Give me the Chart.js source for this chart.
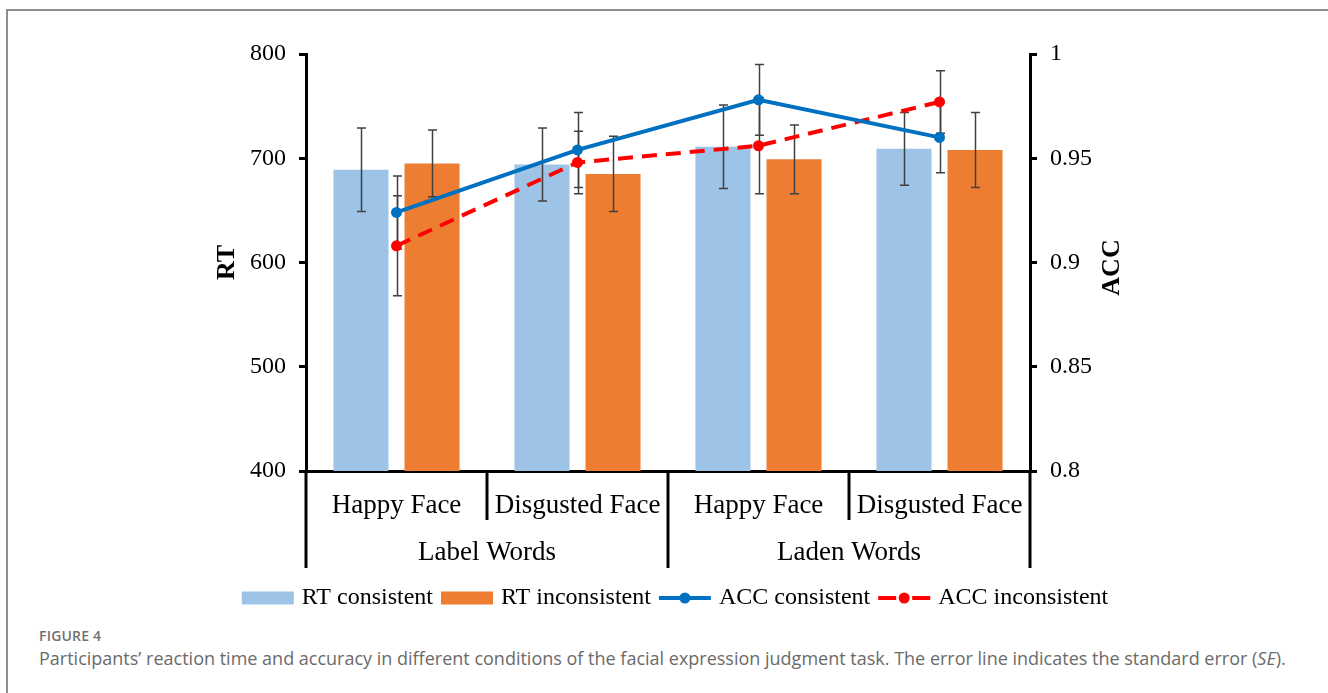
<!DOCTYPE html>
<html>
<head>
<meta charset="utf-8">
<script src="https://cdn.jsdelivr.net/npm/chart.js@4.4.1/dist/chart.umd.min.js"></script>
<style>
  html, body { margin: 0; padding: 0; background: #fff; width: 1328px; height: 693px; overflow: hidden; }
  #frame { position: absolute; left: 6px; top: 9px; width: 1340px; height: 700px;
           border-left: 2px solid #8e8e8e; border-top: 2px solid #8e8e8e; }
  #wrap { position: absolute; left: 0; top: 0; width: 1328px; height: 625px; }
  .fig { position: absolute; left: 39px; top: 626px; font: 600 14px 'Open Sans', sans-serif; color: #707070; letter-spacing: 0.2px; }
  .cap { position: absolute; left: 39px; top: 646px; font: 400 18px 'Open Sans', sans-serif; color: #6b6b6b; white-space: nowrap; }
</style>
</head>
<body>
<div id="frame"></div>
<div id="wrap"><canvas id="c" width="1328" height="625"></canvas></div>
<div class="fig">FIGURE 4</div>
<div class="cap">Participants’ reaction time and accuracy in different conditions of the facial expression judgment task. The error line indicates the standard error (<i>SE</i>).</div>
<script>
// Conditions along the x axis and the word type that groups them
const categories = ['Happy Face', 'Disgusted Face', 'Happy Face', 'Disgusted Face'];
const wordGroups = ['Label Words', 'Laden Words'];

// Reaction time (ms) with standard errors
const rtConsistent = [689, 694, 711, 709];
const rtConsistentSE = [40, 35, 40, 35];
const rtInconsistent = [695, 685, 699, 708];
const rtInconsistentSE = [32, 36, 33, 36];

// Accuracy with standard errors
const accConsistent = [0.924, 0.954, 0.978, 0.960];
const accConsistentSE = [0.0175, 0.018, 0.017, 0.017];
const accInconsistent = [0.908, 0.948, 0.956, 0.977];
const accInconsistentSE = [0.024, 0.015, 0.023, 0.015];

// Axis ticks
const rtTicks = [400, 500, 600, 700, 800];
const accTicks = [0.8, 0.85, 0.9, 0.95, 1];

const SERIF = "'Times New Roman', 'Liberation Serif', serif";

// Vertical error bars for every dataset, drawn through the dataset's own y scale
const errorBars = {
  id: 'errorBars',
  afterDatasetDraw(chart, args) {
    if (args.index !== 0) return; // after the last bar series is painted
    const ctx = chart.ctx;
    ctx.save();
    ctx.strokeStyle = '#404040';
    ctx.lineWidth = 1.5;
    chart.data.datasets.forEach((ds, di) => {
      const meta = chart.getDatasetMeta(di);
      const yScale = chart.scales[ds.yAxisID];
      meta.data.forEach((el, i) => {
        const v = ds.data[i], e = ds.se[i];
        const x = Math.round(el.x) + 0.5;
        const yTop = yScale.getPixelForValue(v + e);
        const yBot = yScale.getPixelForValue(v - e);
        ctx.beginPath();
        ctx.moveTo(x, yTop); ctx.lineTo(x, yBot);
        ctx.moveTo(x - 4.5, yTop); ctx.lineTo(x + 4.5, yTop);
        ctx.moveTo(x - 4.5, yBot); ctx.lineTo(x + 4.5, yBot);
        ctx.stroke();
      });
    });
    ctx.restore();
  }
};

// Group separators under the x axis, word-type labels, right axis title and legend
const decorations = {
  id: 'decorations',
  afterDraw(chart) {
    const ctx = chart.ctx;
    const xs = chart.scales.x;
    const area = chart.chartArea;
    const step = xs.getPixelForValue(1) - xs.getPixelForValue(0);
    const start = xs.getPixelForValue(0) - step / 2;
    ctx.save();
    ctx.strokeStyle = '#000';
    ctx.lineWidth = 3;
    for (let i = 0; i <= categories.length; i++) {
      const bx = start + i * step;
      const len = (i % 2 === 0) ? 97 : 49;
      ctx.beginPath();
      ctx.moveTo(bx, area.bottom);
      ctx.lineTo(bx, area.bottom + len);
      ctx.stroke();
    }
    ctx.fillStyle = '#000';
    ctx.font = '27px ' + SERIF;
    ctx.textAlign = 'center';
    ctx.textBaseline = 'middle';
    wordGroups.forEach((g, gi) => {
      const cx = start + (gi * 2 + 1) * step;
      ctx.fillText(g, cx, 553);
    });

    // Right axis title, reading bottom to top
    const ys = chart.scales.y1;
    ctx.save();
    ctx.translate(ys.left + 82, (area.top + area.bottom) / 2 + 5);
    ctx.rotate(-Math.PI / 2);
    ctx.font = 'bold 26px ' + SERIF;
    ctx.textAlign = 'center';
    ctx.textBaseline = 'middle';
    ctx.fillText('ACC', 0, 0);
    ctx.restore();

    // Legend
    ctx.font = '24px ' + SERIF;
    ctx.textAlign = 'left';
    ctx.textBaseline = 'middle';
    const markW = 52, gapIn = 8, gapOut = 8, ly = 598;
    const items = chart.data.datasets.map(ds => ({ ds, w: ctx.measureText(ds.label).width }));
    let total = 0;
    items.forEach((it, k) => { total += markW + gapIn + it.w + (k < items.length - 1 ? gapOut : 0); });
    let x = 675 - total / 2;
    items.forEach(it => {
      const ds = it.ds;
      if (ds.type === 'bar') {
        ctx.fillStyle = ds.backgroundColor;
        ctx.fillRect(x, ly - 6.5, markW, 13);
      } else {
        ctx.strokeStyle = ds.borderColor;
        ctx.lineWidth = ds.borderWidth;
        ctx.beginPath();
        if (ds.borderDash && ds.borderDash.length) {
          ctx.moveTo(x, ly); ctx.lineTo(x + 18, ly);
          ctx.moveTo(x + markW - 18, ly); ctx.lineTo(x + markW, ly);
        } else {
          ctx.moveTo(x, ly); ctx.lineTo(x + markW, ly);
        }
        ctx.stroke();
        ctx.fillStyle = ds.pointBackgroundColor;
        ctx.beginPath();
        ctx.arc(x + markW / 2, ly, 5.5, 0, Math.PI * 2);
        ctx.fill();
      }
      x += markW + gapIn;
      ctx.fillStyle = '#000';
      ctx.fillText(ds.label, x, ly);
      x += it.w + gapOut;
    });
    ctx.restore();
  }
};

new Chart(document.getElementById('c'), {
  data: {
    labels: categories,
    datasets: [
      { type: 'bar', label: 'RT consistent', data: rtConsistent, se: rtConsistentSE, yAxisID: 'y',
        backgroundColor: '#9DC3E6', borderWidth: 0, order: 3,
        categoryPercentage: 0.785, barPercentage: 0.775 },
      { type: 'bar', label: 'RT inconsistent', data: rtInconsistent, se: rtInconsistentSE, yAxisID: 'y',
        backgroundColor: '#ED7D31', borderWidth: 0, order: 3,
        categoryPercentage: 0.785, barPercentage: 0.775 },
      { type: 'line', label: 'ACC consistent', data: accConsistent, se: accConsistentSE, yAxisID: 'y1',
        borderColor: '#0070C0', borderWidth: 4, pointRadius: 5.5, pointBackgroundColor: '#0070C0',
        pointBorderWidth: 0, fill: false, tension: 0, order: 1 },
      { type: 'line', label: 'ACC inconsistent', data: accInconsistent, se: accInconsistentSE, yAxisID: 'y1',
        borderColor: '#FF0000', borderWidth: 4, borderDash: [15, 9], pointRadius: 5.5,
        pointBackgroundColor: '#FF0000', pointBorderWidth: 0, fill: false, tension: 0, order: 2 }
    ]
  },
  options: {
    responsive: false,
    animation: false,
    layout: { padding: { top: 54, left: 0, right: 0, bottom: 0 } },
    plugins: { legend: { display: false }, tooltip: { enabled: false } },
    scales: {
      x: {
        type: 'category',
        offset: true,
        grid: { display: false, drawTicks: false },
        border: { display: true, color: '#000', width: 3 },
        ticks: { font: { family: SERIF, size: 27 }, color: '#000', padding: 19, maxRotation: 0, autoSkip: false },
        afterFit(s) { s.height = 154; }
      },
      y: {
        position: 'left',
        min: 400, max: 800,
        afterBuildTicks(s) { s.ticks = rtTicks.map(v => ({ value: v })); },
        grid: { drawOnChartArea: false, drawTicks: true, tickLength: 7, color: '#000', lineWidth: 3 },
        border: { display: true, color: '#000', width: 3 },
        ticks: { font: { family: SERIF, size: 24 }, color: '#000', padding: 13 },
        title: { display: true, text: 'RT', color: '#000',
                 font: { family: SERIF, size: 26, weight: 'bold' }, padding: { top: 212, bottom: 0 } },
        afterFit(s) { s.width = 306; }
      },
      y1: {
        position: 'right',
        min: 0.8, max: 1,
        afterBuildTicks(s) { s.ticks = accTicks.map(v => ({ value: v })); },
        grid: { drawOnChartArea: false, drawTicks: true, tickLength: 7, color: '#000', lineWidth: 3 },
        border: { display: true, color: '#000', width: 3 },
        ticks: { font: { family: SERIF, size: 24 }, color: '#000', padding: 13,
                 callback: v => String(v) },
        afterFit(s) { s.width = 298; }
      }
    }
  },
  plugins: [errorBars, decorations]
});
</script>
</body>
</html>
